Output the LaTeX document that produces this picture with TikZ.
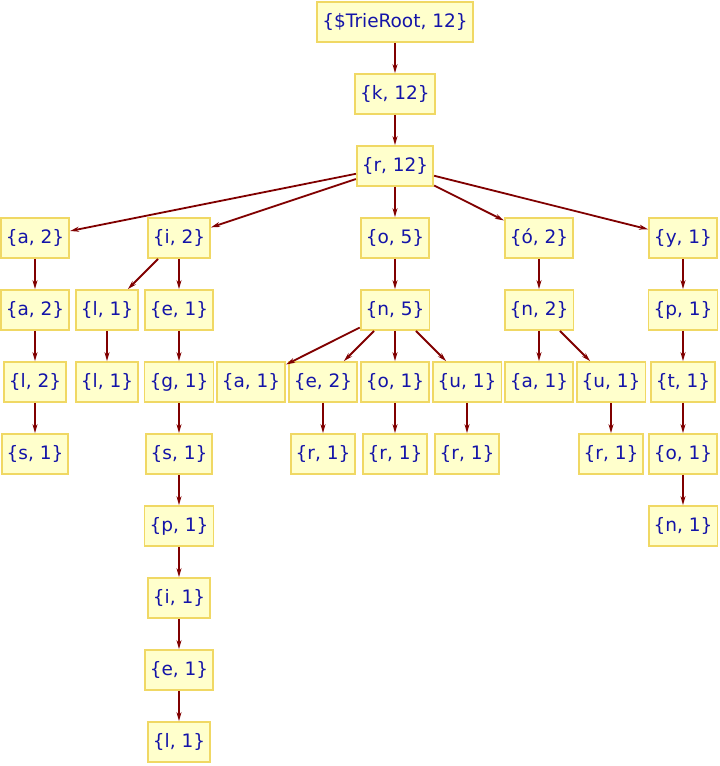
\documentclass[tikz,border=0pt]{standalone}
\usepackage{fontspec}
\setmainfont{DejaVu Sans}
\usetikzlibrary{arrows.meta}
\definecolor{nodefill}{HTML}{FFFFCC}
\definecolor{nodeline}{HTML}{F0D864}
\definecolor{txtblue}{HTML}{1414A8}
\definecolor{edgered}{HTML}{800000}
\tikzset{
  tn/.style={draw=nodeline, fill=nodefill, line width=1.8pt, text=txtblue,
    minimum height=40pt, inner xsep=5pt, inner ysep=0pt,
    font=\fontsize{18.5}{21}\selectfont},
  te/.style={draw=edgered, line width=1.8pt, -{Stealth[length=9pt,width=5pt]}}
}
\begin{document}
\begin{tikzpicture}[x=1pt,y=-1pt]
\useasboundingbox (0,0) rectangle (720,766);
% row 0-2
\node[tn] (root) at (395,22) {\{\$TrieRoot, 12\}};
\node[tn] (k) at (395,94) {\{k, 12\}};
\node[tn] (r) at (395,166) {\{r, 12\}};
% row 3
\node[tn] (a2) at (35,238) {\{a, 2\}};
\node[tn] (i2) at (179,238) {\{i, 2\}};
\node[tn] (o5) at (395,238) {\{o, 5\}};
\node[tn] (oa2) at (539,238) {\{ó, 2\}};
\node[tn] (y1) at (683,238) {\{y, 1\}};
% row 4
\node[tn] (a2b) at (35,310) {\{a, 2\}};
\node[tn] (l1a) at (107,310) {\{l, 1\}};
\node[tn] (e1a) at (179,310) {\{e, 1\}};
\node[tn] (n5) at (395,310) {\{n, 5\}};
\node[tn] (n2) at (539,310) {\{n, 2\}};
\node[tn] (p1a) at (683,310) {\{p, 1\}};
% row 5
\node[tn] (l2) at (35,382) {\{l, 2\}};
\node[tn] (l1b) at (107,382) {\{l, 1\}};
\node[tn] (g1) at (179,382) {\{g, 1\}};
\node[tn] (a1a) at (251,382) {\{a, 1\}};
\node[tn] (e2) at (323,382) {\{e, 2\}};
\node[tn] (o1a) at (395,382) {\{o, 1\}};
\node[tn] (u1a) at (467,382) {\{u, 1\}};
\node[tn] (a1b) at (539,382) {\{a, 1\}};
\node[tn] (u1b) at (611,382) {\{u, 1\}};
\node[tn] (t1) at (683,382) {\{t, 1\}};
% row 6
\node[tn] (s1a) at (35,454) {\{s, 1\}};
\node[tn] (s1b) at (179,454) {\{s, 1\}};
\node[tn] (r1a) at (323,454) {\{r, 1\}};
\node[tn] (r1b) at (395,454) {\{r, 1\}};
\node[tn] (r1c) at (467,454) {\{r, 1\}};
\node[tn] (r1d) at (611,454) {\{r, 1\}};
\node[tn] (o1b) at (683,454) {\{o, 1\}};
% rows 7-10
\node[tn] (p1b) at (179,526) {\{p, 1\}};
\node[tn] (n1) at (683,526) {\{n, 1\}};
\node[tn] (i1) at (179,598) {\{i, 1\}};
\node[tn] (e1b) at (179,670) {\{e, 1\}};
\node[tn] (l1c) at (179,742) {\{l, 1\}};
% edges
\draw[te] (root) -- (k);
\draw[te] (k) -- (r);
\draw[te] (r) -- (a2);
\draw[te] (r) -- (i2);
\draw[te] (r) -- (o5);
\draw[te] (r) -- (oa2);
\draw[te] (r) -- (y1);
\draw[te] (a2) -- (a2b);
\draw[te] (a2b) -- (l2);
\draw[te] (l2) -- (s1a);
\draw[te] (i2) -- (l1a);
\draw[te] (l1a) -- (l1b);
\draw[te] (i2) -- (e1a);
\draw[te] (e1a) -- (g1);
\draw[te] (g1) -- (s1b);
\draw[te] (s1b) -- (p1b);
\draw[te] (p1b) -- (i1);
\draw[te] (i1) -- (e1b);
\draw[te] (e1b) -- (l1c);
\draw[te] (o5) -- (n5);
\draw[te] (n5) -- (a1a);
\draw[te] (n5) -- (e2);
\draw[te] (n5) -- (o1a);
\draw[te] (n5) -- (u1a);
\draw[te] (e2) -- (r1a);
\draw[te] (o1a) -- (r1b);
\draw[te] (u1a) -- (r1c);
\draw[te] (oa2) -- (n2);
\draw[te] (n2) -- (a1b);
\draw[te] (n2) -- (u1b);
\draw[te] (u1b) -- (r1d);
\draw[te] (y1) -- (p1a);
\draw[te] (p1a) -- (t1);
\draw[te] (t1) -- (o1b);
\draw[te] (o1b) -- (n1);
\end{tikzpicture}
\end{document}
